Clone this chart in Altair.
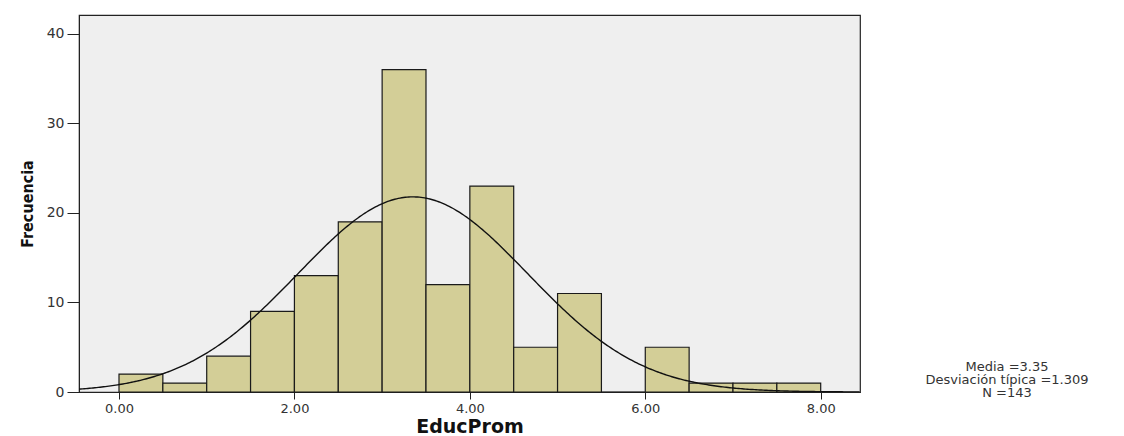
import altair as alt
import pandas as pd

# Histogram of EducProm: bins of width 0.5 from 0 to 8
bin_start = [0.0, 0.5, 1.0, 1.5, 2.0, 2.5, 3.0, 3.5, 4.0, 4.5, 5.0, 5.5, 6.0, 6.5, 7.0, 7.5]
bin_end = [0.5, 1.0, 1.5, 2.0, 2.5, 3.0, 3.5, 4.0, 4.5, 5.0, 5.5, 6.0, 6.5, 7.0, 7.5, 8.0]
counts = [2, 1, 4, 9, 13, 19, 36, 12, 23, 5, 11, 0, 5, 1, 1, 1]

# Summary statistics shown in the legend and used for the normal curve
mean = 3.35
std_dev = 1.309
n_obs = 143
bin_width = 0.5

x_ticks = [0, 2, 4, 6, 8]
y_ticks = [0, 10, 20, 30, 40]
x_domain = [-0.456, 8.448]
y_domain = [0, 42.1]

stats_text = f"Media ={mean}\nDesviación típica ={std_dev}\nN ={n_obs}"

bars_df = pd.DataFrame({"start": bin_start, "end": bin_end, "count": counts})

x_scale = alt.Scale(domain=x_domain, nice=False, zero=False)
y_scale = alt.Scale(domain=y_domain, nice=False)

bars = alt.Chart(bars_df).mark_rect(
    fill="#d3ce97", stroke="#1a1a1a", strokeWidth=1.2
).encode(
    x=alt.X("start:Q", scale=x_scale,
            axis=alt.Axis(values=x_ticks, format=".2f", title="EducProm")),
    x2="end:Q",
    y=alt.Y("count:Q", scale=y_scale,
            axis=alt.Axis(values=y_ticks, title="Frecuencia")),
    y2=alt.datum(0),
)

# Normal density scaled to counts: N * bin width * pdf(x)
curve = alt.Chart(alt.sequence(start=x_domain[0], stop=x_domain[1] + 0.01, step=0.02, as_="x")).transform_calculate(
    freq=f"{n_obs} * {bin_width} * densityNormal(datum.x, {mean}, {std_dev})"
).mark_line(color="#111111", strokeWidth=1.4, clip=True).encode(
    x=alt.X("x:Q", scale=x_scale),
    y=alt.Y("freq:Q", scale=y_scale),
)

stats = alt.Chart(pd.DataFrame({"t": [stats_text]})).mark_text(
    lineBreak="\n", align="center", baseline="middle",
    font="DejaVu Sans", fontSize=13, color="#333333", lineHeight=13
).encode(
    text="t:N",
    x=alt.value(928),
    y=alt.value(352),
)

chart = alt.layer(bars, curve, stats).properties(
    width=781,
    height=377,
    padding={"left": 79, "top": 15, "right": 264, "bottom": 44},
    autosize=alt.AutoSizeParams(type="none"),
    background="white",
).configure_view(
    fill="#efefef", stroke="#222222", strokeWidth=1.2
).configure_axis(
    grid=False,
    domainColor="#222222",
    tickColor="#222222",
    labelFont="DejaVu Sans",
    labelFontSize=13,
    labelColor="#333333",
    titleColor="#111111",
).configure_axisX(
    tickSize=7,
    labelPadding=3,
    titleFont="DejaVu Sans",
    titleFontSize=19,
    titleFontWeight="bold",
    titlePadding=2,
).configure_axisY(
    tickSize=12,
    labelPadding=3,
    labelFontSize=14,
    titleFont="DejaVu Sans Condensed",
    titleFontSize=16,
    titleFontWeight="bold",
    titlePadding=11,
)

chart.save("out.html", embed_options={"renderer": "svg", "actions": False})
